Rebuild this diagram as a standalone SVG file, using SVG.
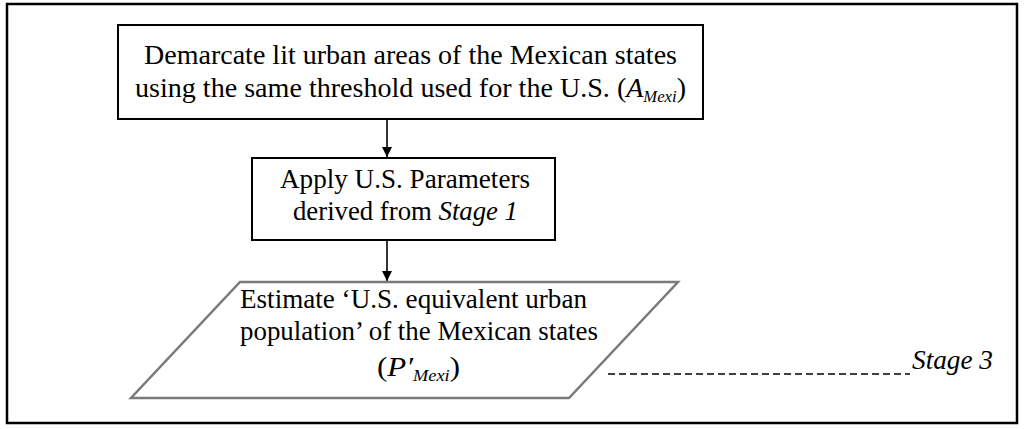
<svg xmlns="http://www.w3.org/2000/svg" width="1024" height="429" viewBox="0 0 1024 429">
<defs>
<style>
.t{font-family:"Liberation Serif","Times New Roman",serif;font-size:27px;fill:#000}
.i{font-style:italic}
.sub{font-style:italic;font-size:16px}
.box{fill:#fff;stroke:#000;stroke-width:2}
.para{fill:#fff;stroke:#7a7a7a;stroke-width:2.5}
.conn{stroke:#000;stroke-width:1.6;fill:none}
</style>
<marker id="arr" viewBox="0 0 10 10" refX="10" refY="5" markerWidth="10" markerHeight="10" markerUnits="userSpaceOnUse" orient="auto">
<path d="M0,0 L10,5 L0,10 Z" fill="#000"/>
</marker>
</defs>
<rect x="0" y="0" width="1024" height="429" fill="#fff"/>
<rect id="frame" x="7" y="4" width="1010" height="419" fill="none" stroke="#000" stroke-width="2.5"/>
<g id="connectors">
<line class="conn" x1="387" y1="119" x2="387" y2="157" marker-end="url(#arr)"/>
<line class="conn" x1="387" y1="240" x2="387" y2="281" marker-end="url(#arr)"/>
<line x1="608" y1="374" x2="910" y2="374" stroke="#000" stroke-width="1.5" stroke-dasharray="7 4"/>
</g>
<g id="node1">
<rect class="box" x="118" y="25" width="585" height="94"/>
<text class="t" x="144" y="64" textLength="533" lengthAdjust="spacingAndGlyphs">Demarcate lit urban areas of the Mexican states</text>
<text class="t" x="135" y="97" textLength="551" lengthAdjust="spacingAndGlyphs">using the same threshold used for the U.S. (<tspan class="i">A</tspan><tspan class="sub" dy="5">Mexi</tspan><tspan dy="-5">)</tspan></text>
</g>
<g id="node2">
<rect class="box" x="252" y="158" width="303" height="82"/>
<text class="t" x="280" y="188" textLength="250" lengthAdjust="spacingAndGlyphs">Apply U.S. Parameters</text>
<text class="t" x="293" y="220" textLength="225" lengthAdjust="spacingAndGlyphs">derived from <tspan class="i">Stage 1</tspan></text>
</g>
<g id="node3">
<polygon class="para" points="240,282 678,282 569,398 131,398"/>
<text class="t" x="240" y="308" textLength="347" lengthAdjust="spacingAndGlyphs">Estimate ‘U.S. equivalent urban</text>
<text class="t" x="240" y="340" textLength="358" lengthAdjust="spacingAndGlyphs">population’ of the Mexican states</text>
<text class="t" x="377" y="376" textLength="83" lengthAdjust="spacingAndGlyphs">(<tspan class="i">P′</tspan><tspan class="sub" dy="5">Mexi</tspan><tspan dy="-5">)</tspan></text>
</g>
<g id="label">
<text class="t i" x="912" y="369" textLength="81" lengthAdjust="spacingAndGlyphs">Stage 3</text>
</g>
</svg>
